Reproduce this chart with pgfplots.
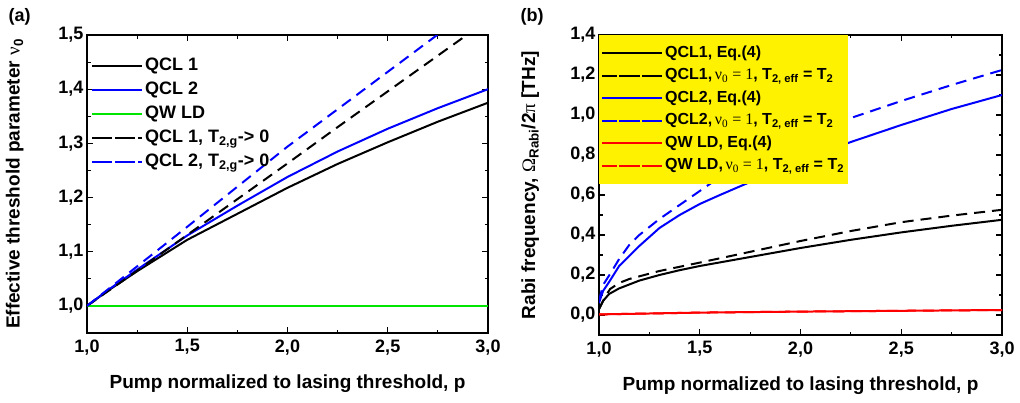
\documentclass[border=0pt]{standalone}
\usepackage{fontspec}
\setmainfont{Liberation Sans}
\newfontfamily\serif{Liberation Serif}
\usepackage{pgfplots}
\pgfplotsset{compat=1.18}
\definecolor{qblue}{RGB}{0,0,255}
\definecolor{qgreen}{RGB}{0,230,0}
\definecolor{qred}{RGB}{255,0,0}
\pgfplotsset{
  common/.style={
    scale only axis,
    xmin=1, xmax=3,
    xtick={1,1.5,2,2.5,3},
    minor x tick num=1,
    tick align=inside,
    xtick pos=both, ytick pos=both,
    major tick length=6pt, minor tick length=3.5pt,
    every tick/.style={black, line width=1.1pt},
    axis line style={line width=1.4pt},
    tick label style={font=\bfseries\fontsize{18}{20}\selectfont},
    xticklabel style={yshift=-3pt},
    label style={font=\bfseries\fontsize{19}{22}\selectfont},
    xlabel style={at={(axis description cs:0.5,-0.17)}, anchor=center},
    /pgf/number format/.cd, use comma, fixed, fixed zerofill, precision=1, assume math mode=true,
    /pgfplots/.cd,
    legend cell align=left,
  },
  limgA/.style={legend image code/.code={\path (0pt,0pt) -- (50pt,0pt); \draw[##1] (5pt,0pt) -- (47pt,0pt);}},
  limgB/.style={legend image code/.code={\path (0pt,0pt) -- (60pt,0pt); \draw[##1] (17pt,0pt) -- (55pt,0pt);}},
  ln/.style={line width=2pt},
  dsh/.style={line width=2pt, dash pattern=on 11pt off 7pt,
    legend image post style={dash pattern=on 15pt off 8pt}},
}
\begin{document}
\begin{tikzpicture}
\useasboundingbox (0,0) rectangle (1020pt,402pt);
\node[anchor=west, font=\bfseries\fontsize{18}{20}\selectfont] at (5pt,385pt) {(a)};
\node[anchor=west, font=\bfseries\fontsize{18}{20}\selectfont] at (517pt,385pt) {(b)};
\begin{axis}[common, limgA,
  at={(87pt,69pt)}, anchor=south west,
  width=401pt, height=298pt,
  ymin=0.95, ymax=1.5,
  ytick={1,1.1,1.2,1.3,1.4,1.5},
  minor y tick num=1,
  xlabel={Pump normalized to lasing threshold, p},
  ylabel={Effective threshold parameter {\serif\mdseries ν}\textsubscript{0}},
  ylabel style={at={(axis description cs:-0.18,0.5)}, anchor=center},
  legend style={at={(0.01,0.932)}, anchor=north west, draw=none, fill=none,
    inner xsep=0pt, inner ysep=0pt,
    font=\bfseries\fontsize{18}{20}\selectfont, row sep=2pt,
    nodes={inner sep=2pt, text height=13pt, text depth=5pt}},
]
\addplot[black, ln] coordinates {(1.0,1.0) (1.1,1.027) (1.25,1.064) (1.5,1.122) (1.75,1.170) (2.0,1.218) (2.25,1.262) (2.5,1.302) (2.75,1.340) (3.0,1.375)};
\addlegendentry{QCL 1}
\addplot[qblue, ln] coordinates {(1.0,1.0) (1.1,1.028) (1.25,1.067) (1.5,1.130) (1.75,1.185) (2.0,1.238) (2.25,1.285) (2.5,1.327) (2.75,1.365) (3.0,1.400)};
\addlegendentry{QCL 2}
\addplot[qgreen, ln] coordinates {(1.0,1.0) (3.0,1.0)};
\addlegendentry{QW LD}
\addplot[black, dsh] coordinates {(1.0,1.0) (1.25,1.065) (1.5,1.131) (1.75,1.197) (2.0,1.263) (2.25,1.330) (2.5,1.396) (2.75,1.462) (3.0,1.528)};
\addlegendentry{QCL 1, T\textsubscript{2,g}-> 0}
\addplot[qblue, dsh] coordinates {(1.0,1.0) (1.25,1.073) (1.5,1.146) (1.75,1.220) (2.0,1.294) (2.25,1.363) (2.5,1.432) (2.75,1.501) (3.0,1.570)};
\addlegendentry{QCL 2, T\textsubscript{2,g}-> 0}
\end{axis}
\begin{axis}[common, limgB,
  at={(599pt,67pt)}, anchor=south west,
  width=403pt, height=300pt,
  ymin=-0.1, ymax=1.4,
  ytick={0,0.2,0.4,0.6,0.8,1.0,1.2,1.4},
  minor y tick num=1,
  xlabel={Pump normalized to lasing threshold, p},
  ylabel={Rabi frequency, {\serif\mdseries Ω}\textsubscript{Rabi}/2{\serif\mdseries π} [THz]},
  ylabel style={at={(axis description cs:-0.171,0.5)}, anchor=center},
  legend style={at={(0,1)}, anchor=north west, draw=none, fill=yellow,
    font=\bfseries\fontsize{16}{18}\selectfont, row sep=0.5pt, inner xsep=2pt, inner ysep=7pt,
    nodes={inner sep=2pt, text height=13pt, text depth=5pt}},
]
\addplot[black, ln] coordinates {(1.0,0.03) (1.02,0.07) (1.05,0.105) (1.1,0.133) (1.2,0.172) (1.3,0.20) (1.4,0.224) (1.5,0.245) (1.75,0.29) (2.0,0.335) (2.25,0.376) (2.5,0.413) (2.75,0.446) (3.0,0.476)};
\addlegendentry{QCL1, Eq.(4)}
\addplot[black, dsh] coordinates {(1.0,0.03) (1.03,0.09) (1.055,0.13) (1.1,0.16) (1.15,0.18) (1.3,0.22) (1.5,0.262) (1.7,0.305) (2.0,0.37) (2.25,0.42) (2.5,0.464) (2.75,0.497) (3.0,0.526)};
\addlegendentry{QCL1,\,{\serif\mdseries ν\textsubscript{0} = 1}, T\textsubscript{2, eff} = T\textsubscript{2}}
\addplot[qblue, ln] coordinates {(1.0,0.06) (1.02,0.12) (1.05,0.165) (1.1,0.245) (1.2,0.345) (1.3,0.435) (1.4,0.50) (1.5,0.555) (1.6,0.60) (1.75,0.665) (2.0,0.77) (2.25,0.865) (2.5,0.95) (2.75,1.03) (3.0,1.10)};
\addlegendentry{QCL2, Eq.(4)}
\addplot[qblue, dsh] coordinates {(1.0,0.07) (1.02,0.15) (1.055,0.205) (1.1,0.28) (1.15,0.35) (1.2,0.40) (1.25,0.44) (1.3,0.48) (1.4,0.55) (1.5,0.62) (1.6,0.69) (1.75,0.77) (2.0,0.88) (2.25,0.985) (2.5,1.07) (2.75,1.15) (3.0,1.225)};
\addlegendentry{QCL2,\,{\serif\mdseries ν\textsubscript{0} = 1}, T\textsubscript{2, eff} = T\textsubscript{2}}
\addplot[qred, ln] coordinates {(1.0,0.003) (1.5,0.012) (2.0,0.017) (2.5,0.021) (3.0,0.025)};
\addlegendentry{QW LD, Eq.(4)}
\addplot[qred, dsh] coordinates {(1.0,0.003) (1.5,0.012) (2.0,0.017) (2.5,0.021) (3.0,0.025)};
\addlegendentry{QW LD,\,{\serif\mdseries ν\textsubscript{0} = 1}, T\textsubscript{2, eff} = T\textsubscript{2}}
\end{axis}
\end{tikzpicture}
\end{document}
